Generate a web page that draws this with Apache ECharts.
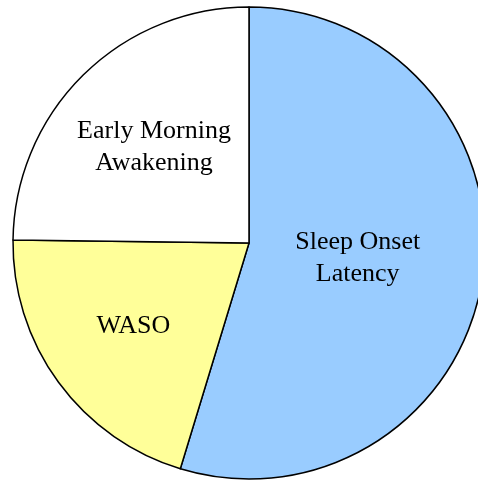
<!DOCTYPE html>
<html>
<head>
<meta charset="utf-8">
<script src="https://cdn.jsdelivr.net/npm/echarts@6/dist/echarts.min.js"></script>
<style>
  html, body { margin: 0; padding: 0; background: #fff; }
  #chart { width: 478px; height: 483px; }
</style>
</head>
<body>
<div id="chart"></div>
<script>
var categories = ['Sleep Onset\nLatency', 'WASO', 'Early Morning\nAwakening'];
var values = [54.7, 20.5, 24.8];
var colors = ['#99ccff', '#ffff99', '#ffffff'];
var labelOffsets = [[-11, -3], [-18, 12], [-10, -10]];

var myChart = echarts.init(document.getElementById('chart'));

var pieData = categories.map(function (name, i) {
  return {
    name: name,
    value: values[i],
    itemStyle: { color: colors[i] },
    label: { offset: labelOffsets[i] }
  };
});

var option = {
  animation: false,
  series: [
    {
      type: 'pie',
      center: [249, 243],
      radius: [0, 236],
      startAngle: 90,
      clockwise: true,
      data: pieData,
      itemStyle: {
        borderColor: '#000',
        borderWidth: 1.5
      },
      label: {
        show: true,
        position: 'inside',
        formatter: '{b}',
        fontFamily: 'Liberation Serif',
        fontSize: 26,
        lineHeight: 32,
        color: '#000'
      },
      labelLine: { show: false },
      emphasis: { disabled: true }
    }
  ]
};

myChart.setOption(option);
</script>
</body>
</html>
